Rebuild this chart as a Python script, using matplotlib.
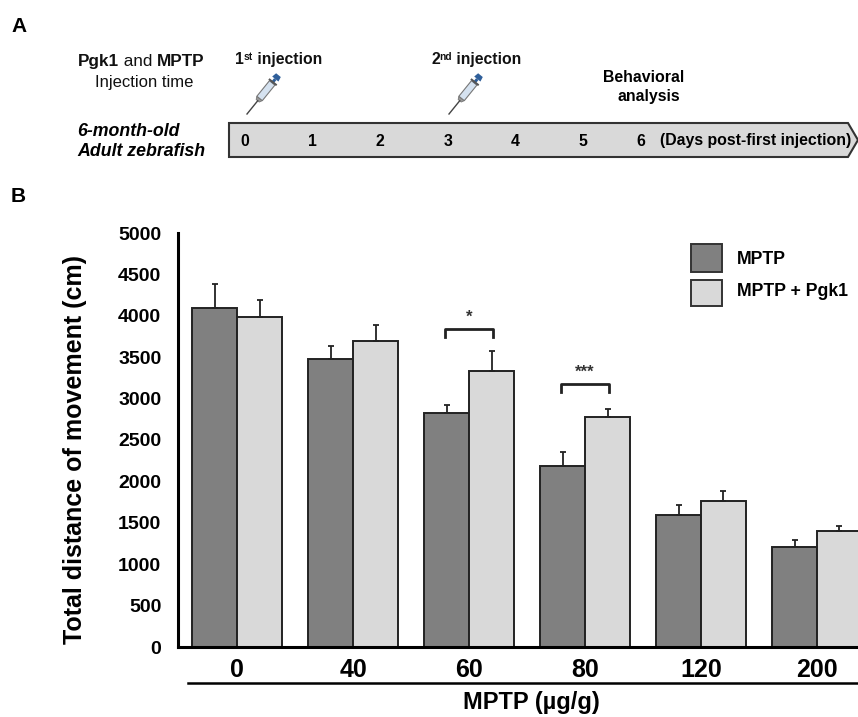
import numpy as np
import matplotlib
matplotlib.use("Agg")
import matplotlib.pyplot as plt
from matplotlib.patches import Polygon, Rectangle

plt.rcParams['font.family'] = ['Liberation Sans', 'DejaVu Sans']

W, H = 858, 717

# data
doses = ['0', '40', '60', '80', '120', '200']
mptp = [4100, 3480, 2830, 2180, 1590, 1210]
mptp_err = [280, 150, 90, 170, 130, 80]
pgk1 = [3990, 3700, 3330, 2780, 1760, 1400]
pgk1_err = [200, 190, 250, 100, 120, 60]
yticks = [0, 500, 1000, 1500, 2000, 2500, 3000, 3500, 4000, 4500, 5000]
# group index, bracket height, stars
brackets = [(2, 3840, '*'), (3, 3175, '***')]
day_labels = ['0', '1', '2', '3', '4', '5', '6']
day_x = [245, 312, 380, 448, 515, 583, 641]

fig = plt.figure(figsize=(W / 100, H / 100), dpi=100)

# overlay in pixel coordinates for panel A and the loose labels
bg = fig.add_axes([0, 0, 1, 1])
bg.set_xlim(0, W)
bg.set_ylim(H, 0)
bg.axis('off')


def runs(x, y, parts, size=10):
    # parts = (text, weight, raise), drawn one after the other on one baseline
    r = fig.canvas.get_renderer()
    for txt, weight, up in parts:
        s = size * 0.65 if up else size
        t = bg.text(x, y - up, txt, fontsize=s, fontweight=weight,
                    ha='left', va='baseline', color='#111111')
        x += t.get_window_extent(r).width


def syringe(x, y):
    # x, y = needle tip, body goes up and to the right
    ang = np.deg2rad(-51)
    u = np.array([np.cos(ang), np.sin(ang)])
    n = np.array([-u[1], u[0]])
    p0 = np.array([x, y])

    def pt(a, b):
        return p0 + u * a + n * b

    bg.plot(*zip(pt(0, 0), pt(17, 0)), color='#444444', lw=1)
    bg.add_patch(Polygon([pt(17, -2), pt(17, 2), pt(20, 3.5), pt(20, -3.5)], fc='#999999', ec='#777777', lw=0.6))
    bg.add_patch(Polygon([pt(20, -3.5), pt(20, 3.5), pt(40, 3.5), pt(40, -3.5)], fc='#d5e2f0', ec='#777777', lw=0.8))
    bg.add_patch(Polygon([pt(40, -1.5), pt(40, 1.5), pt(45, 1.5), pt(45, -1.5)], fc='#2f5f9a', ec='none'))
    bg.add_patch(Polygon([pt(40, -5), pt(40, 5), pt(42, 5), pt(42, -5)], fc='#555555', ec='none'))
    bg.add_patch(Polygon([pt(45, -4), pt(45, 4), pt(50, 3), pt(50, -3)], fc='#2f5f9a', ec='none'))


bg.text(11, 27, 'A', fontsize=15, fontweight='bold', va='center')
bg.text(11, 197, 'B', fontsize=15, fontweight='bold', va='center')

runs(78, 66, [('Pgk1', 'bold', 0), (' and ', 'normal', 0), ('MPTP', 'bold', 0)], 12.3)
bg.text(144, 83, 'Injection time', fontsize=12, ha='center', va='center', color='#111111')
bg.text(77, 131, '6-month-old', fontsize=12.8, fontweight='bold', fontstyle='italic', va='center')
bg.text(77, 152, 'Adult zebrafish', fontsize=12.8, fontweight='bold', fontstyle='italic', va='center')

runs(235, 64, [('1', 'bold', 0), ('st', 'bold', 4), (' injection', 'bold', 0)], 11.3)
runs(431, 64, [('2', 'bold', 0), ('nd', 'bold', 4), (' injection', 'bold', 0)], 11.3)
bg.text(603, 77, 'Behavioral', fontsize=11.4, fontweight='bold', va='center')
bg.text(617, 97, 'analysis', fontsize=11.4, fontweight='bold', va='center')

syringe(247, 114)
syringe(449, 114)

bg.add_patch(Polygon([(229, 123), (848, 123), (858, 140), (848, 157), (229, 157)],
                     closed=True, fc='#d9d9d9', ec='#333333', lw=1.5, clip_on=False))
for lab, dx in zip(day_labels, day_x):
    bg.text(dx, 141, lab, fontsize=11.4, fontweight='bold', ha='center', va='center')
bg.text(660, 141, '(Days post-first injection)', fontsize=11.4, fontweight='bold', va='center')

# panel B
x0, x1 = 178, 858
y_top, y_bot = 233, 647
ax = fig.add_axes([x0 / W, 1 - y_bot / H, (x1 - x0) / W, (y_bot - y_top) / H])
xs = np.arange(len(doses))
width = 45 / 116
ax.bar(xs - width / 2, mptp, width, color='#808080', edgecolor='#222222', linewidth=1.4, label='MPTP')
ax.bar(xs + width / 2, pgk1, width, color='#d9d9d9', edgecolor='#222222', linewidth=1.4, label='MPTP + Pgk1')
ax.errorbar(xs - width / 2, mptp, yerr=[np.zeros(len(mptp)), mptp_err], fmt='none',
            ecolor='#222222', elinewidth=1.3, capsize=2, capthick=1.3)
ax.errorbar(xs + width / 2, pgk1, yerr=[np.zeros(len(pgk1)), pgk1_err], fmt='none',
            ecolor='#222222', elinewidth=1.3, capsize=2, capthick=1.3)

for g, h, stars in brackets:
    ax.plot([g - width / 2 - 0.01, g - width / 2 - 0.01, g + width / 2 + 0.01, g + width / 2 + 0.01],
            [h - 90, h, h, h - 90], color='#222222', lw=2)
    ax.text(g, h + 55, stars, fontsize=12, fontweight='bold', ha='center', va='bottom', color='#333333')

ax.set_xlim((x0 - 237) / 116, (x1 - 237) / 116)
ax.set_ylim(0, 5000)
ax.set_yticks(yticks)
ax.set_xticks(xs)
ax.set_xticklabels(doses, fontsize=18, fontweight='bold')
ax.tick_params(axis='x', length=0, pad=8)
ax.tick_params(axis='y', length=0, pad=12, labelsize=14)
for lab in ax.get_yticklabels():
    lab.set_fontweight('bold')
ax.spines['top'].set_visible(False)
ax.spines['right'].set_visible(False)
ax.spines['left'].set_linewidth(2.2)
ax.spines['bottom'].set_linewidth(2.2)
ax.patch.set_alpha(0)

bg.text(75, 449, 'Total distance of movement (cm)', fontsize=18, fontweight='bold',
        rotation=90, ha='center', va='center')
bg.plot([188, 858], [683, 683], color='black', lw=1.8, clip_on=False)
bg.text(531, 703, 'MPTP (µg/g)', fontsize=17, fontweight='bold', ha='center', va='center')

# legend drawn by hand to hit the original spacing
bg.add_patch(Rectangle((691, 244), 31, 28, fc='#808080', ec='#333333', lw=1.4))
bg.add_patch(Rectangle((691, 280), 31, 26, fc='#d9d9d9', ec='#333333', lw=1.4))
bg.text(737, 260, 'MPTP', fontsize=12.7, fontweight='bold', va='center')
bg.text(737, 292, 'MPTP + Pgk1', fontsize=12.7, fontweight='bold', va='center')

fig.savefig('out.png', dpi=100)
